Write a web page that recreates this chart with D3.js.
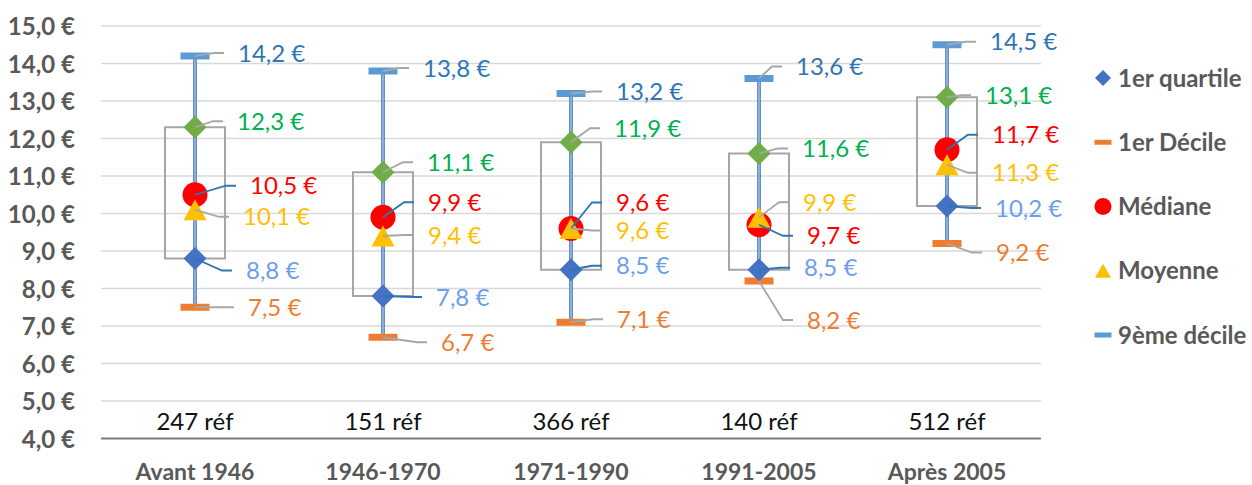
<!DOCTYPE html>
<html>
<head>
<meta charset="utf-8">
<script src="https://cdn.jsdelivr.net/npm/d3@7"></script>
<style>
  body { margin: 0; background: #fff; }
  svg { display: block; font-family: Lato, "Open Sans", sans-serif; }
</style>
</head>
<body>
<svg id="chart" width="1252" height="485"></svg>
<script>
// Price distribution per construction period
const categories = ["Avant 1946", "1946-1970", "1971-1990", "1991-2005", "Après 2005"];
const references = ["247 réf", "151 réf", "366 réf", "140 réf", "512 réf"];
const decile1   = [7.5, 6.7, 7.1, 8.2, 9.2];
const quartile1 = [8.8, 7.8, 8.5, 8.5, 10.2];
const mediane   = [10.5, 9.9, 9.6, 9.7, 11.7];
const moyenne   = [10.1, 9.4, 9.6, 9.9, 11.3];
const quartile3 = [12.3, 11.1, 11.9, 11.6, 13.1];
const decile9   = [14.2, 13.8, 13.2, 13.6, 14.5];
const yTicks    = [4, 5, 6, 7, 8, 9, 10, 11, 12, 13, 14, 15];
const legendLabels = ["1er quartile", "1er Décile", "Médiane", "Moyenne", "9ème décile"];

// Data label placement: [dx from group centre, dy from the marker]
const labelOffsets = {
  decile9:   [[43, -3], [40, -3], [45, -2], [37, -12], [43, -3]],
  quartile3: [[42, -6], [44, -10], [43, -14], [43, -5], [38, -2]],
  mediane:   [[55, -9], [45, -15], [45, -26], [48, 11], [45, -15]],
  moyenne:   [[48, 7], [45, -1], [45, 2], [44, -15], [45, 8]],
  quartile1: [[51, 12], [53, 1], [45, -4], [45, -2], [48, 2]],
  decile1:   [[53, 0], [58, 5], [46, -3], [48, 39], [49, 9]]
};

const svg = d3.select("#chart");
const x = d3.scaleBand().domain(categories).range([101, 1041]);
const y = d3.scaleLinear().domain([4, 15]).range([438.5, 26]);
const cx = c => x(c) + x.bandwidth() / 2;
const euro = v => d3.format(".1f")(v).replace(".", ",") + " €";

const GREY_LEADER = "#A6A6A6", BLUE_LEADER = "#2E75B6";

// gridlines
svg.append("g").selectAll("line").data(yTicks.filter(t => t > 4)).join("line")
  .attr("x1", 101).attr("x2", 1041)
  .attr("y1", d => y(d)).attr("y2", d => y(d))
  .attr("stroke", "#D9D9D9").attr("stroke-width", 1.4);

// y axis labels
const yAxis = svg.append("g").attr("transform", "translate(75,0)")
  .call(d3.axisLeft(y).tickValues(yTicks).tickSize(0).tickPadding(0).tickFormat(euro));
yAxis.select(".domain").remove();
yAxis.selectAll("text")
  .attr("font-family", "Lato, sans-serif").attr("font-size", 24).attr("font-weight", 700)
  .attr("fill", "#595959").attr("dy", "0.36em");

// bottom axis line
svg.append("line").attr("x1", 101).attr("x2", 1041)
  .attr("y1", y(4)).attr("y2", y(4))
  .attr("stroke", "#7A7A7A").attr("stroke-width", 2);

// reference counts inside the plot
svg.append("g").selectAll("text").data(categories).join("text")
  .attr("x", d => cx(d)).attr("y", 421.5).attr("dy", "0.36em")
  .attr("text-anchor", "middle").attr("font-size", 24).attr("fill", "#111")
  .text((d, i) => references[i]);

// category labels
const xAxis = svg.append("g").attr("transform", "translate(0,472)")
  .call(d3.axisBottom(x).tickSize(0).tickPadding(0));
xAxis.select(".domain").remove();
xAxis.selectAll("text")
  .attr("font-family", "Lato, sans-serif").attr("font-size", 23).attr("font-weight", 700)
  .attr("fill", "#595959").attr("dy", "0.36em");

// interquartile boxes
svg.append("g").selectAll("rect").data(categories).join("rect")
  .attr("x", d => cx(d) - 30).attr("width", 60)
  .attr("y", (d, i) => y(quartile3[i]))
  .attr("height", (d, i) => y(quartile1[i]) - y(quartile3[i]))
  .attr("fill", "none").attr("stroke", "#A6A6A6").attr("stroke-width", 2);

// whiskers (double line) from 1st to 9th decile
const whisk = svg.append("g");
whisk.selectAll("line.outer").data(categories).join("line").attr("class", "outer")
  .attr("x1", d => cx(d)).attr("x2", d => cx(d))
  .attr("y1", (d, i) => y(decile9[i])).attr("y2", (d, i) => y(decile1[i]))
  .attr("stroke", "#3F74BC").attr("stroke-width", 3.6);
whisk.selectAll("line.inner").data(categories).join("line").attr("class", "inner")
  .attr("x1", d => cx(d)).attr("x2", d => cx(d))
  .attr("y1", (d, i) => y(decile9[i])).attr("y2", (d, i) => y(decile1[i]))
  .attr("stroke", "#DCE7F5").attr("stroke-width", 1);

// marker shapes
const shapes = {
  dash: (w, h) => `M${-w/2},${-h/2}h${w}v${h}h${-w}Z`,
  diamond: r => `M0,${-r}L${r},0L0,${r}L${-r},0Z`,
  circle: r => `M${r},0A${r},${r} 0 1,1 ${-r},0A${r},${r} 0 1,1 ${r},0Z`,
  triangle: (w, h) => `M0,${-h/2}L${w/2},${h/2}L${-w/2},${h/2}Z`
};

const series = [
  { key: "decile9",   values: decile9,   path: shapes.dash(29, 7),      fill: "#5B9BD5", label: "#2E75B6", leader: GREY_LEADER },
  { key: "decile1",   values: decile1,   path: shapes.dash(29, 7),      fill: "#ED7D31", label: "#ED7D31", leader: GREY_LEADER },
  { key: "quartile3", values: quartile3, path: shapes.diamond(11.5),    fill: "#70AD47", label: "#00B050", leader: GREY_LEADER },
  { key: "quartile1", values: quartile1, path: shapes.diamond(11.5),    fill: "#4472C4", label: "#6D9EEB", leader: BLUE_LEADER },
  { key: "mediane",   values: mediane,   path: shapes.circle(12.5),     fill: "#FF0000", label: "#FF0000", leader: BLUE_LEADER },
  { key: "moyenne",   values: moyenne,   path: shapes.triangle(23, 21), fill: "#FFC000", label: "#FFC000", leader: GREY_LEADER }
];

const markers = svg.append("g");
series.forEach(s => {
  markers.append("g").selectAll("path").data(categories).join("path")
    .attr("transform", (d, i) => `translate(${cx(d)},${y(s.values[i])})`)
    .attr("d", s.path).attr("fill", s.fill);
});

// leader lines and data labels
const leaders = svg.append("g").attr("fill", "none").attr("stroke-width", 1.8);
const labels = svg.append("g").attr("font-size", 24);
series.forEach(s => {
  categories.forEach((c, i) => {
    const [dx, dy] = labelOffsets[s.key][i];
    const x0 = cx(c), y0 = y(s.values[i]);
    const tx = x0 + dx, ty = y0 + dy;
    const xEnd = tx - 14, xElbow = xEnd - 10;
    leaders.append("path")
      .attr("d", `M${x0},${y0}L${xElbow},${ty}L${xEnd},${ty}`)
      .attr("stroke", s.leader);
    labels.append("text")
      .attr("x", tx).attr("y", ty).attr("dy", "0.36em")
      .attr("fill", s.label).text(euro(s.values[i]));
  });
});

// legend
const legendItems = [
  { path: shapes.diamond(8),      fill: "#4472C4" },
  { path: shapes.dash(17, 5),     fill: "#ED7D31" },
  { path: shapes.circle(8.5),     fill: "#FF0000" },
  { path: shapes.triangle(16, 14), fill: "#FFC000" },
  { path: shapes.dash(17, 5),     fill: "#5B9BD5" }
];
const legendY = d3.scalePoint().domain(legendLabels).range([78, 335]);
const legend = svg.append("g").selectAll("g").data(legendLabels).join("g")
  .attr("transform", d => `translate(1103,${legendY(d)})`);
legend.append("path").attr("d", (d, i) => legendItems[i].path).attr("fill", (d, i) => legendItems[i].fill);
legend.append("text").attr("x", 15).attr("dy", "0.36em")
  .attr("font-size", 24).attr("font-weight", 700).attr("fill", "#595959")
  .text(d => d);
</script>
</body>
</html>
